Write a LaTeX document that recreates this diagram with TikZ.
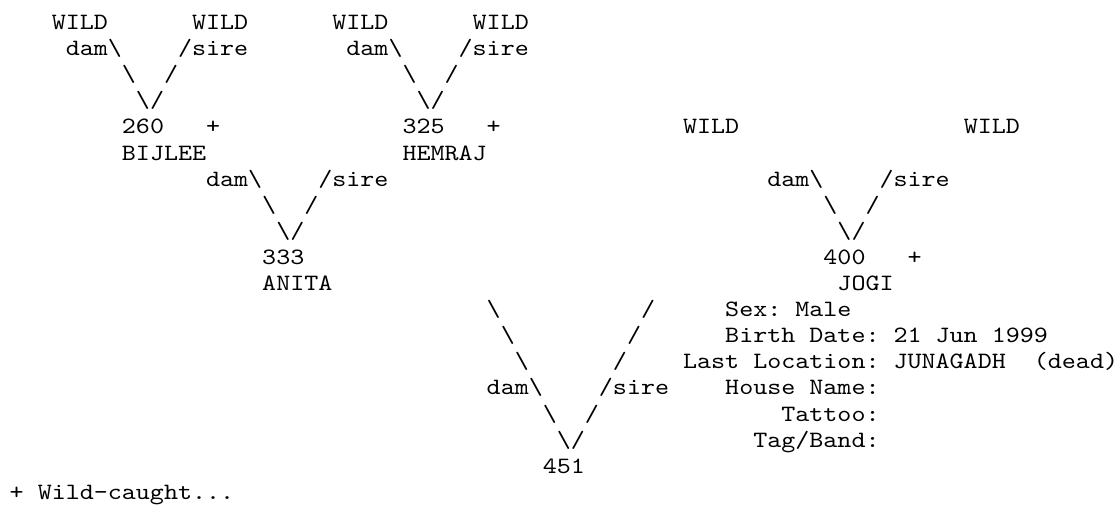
\documentclass[tikz,border=0pt]{standalone}
\usepackage{fontspec}
\newfontfamily\pedfont{lmmono10-regular.otf}[FakeStretch=1.142]
\newcommand{\bs}{\textbackslash}
\tikzset{
  txt/.style={font={\pedfont\fontsize{23.4pt}{26.1pt}\selectfont\frenchspacing},
    inner sep=0pt, outer sep=0pt, anchor=base west, text=black}
}
\begin{document}
\begin{tikzpicture}

  % page frame
  \useasboundingbox (0pt,0pt) rectangle (1119pt,-507pt);
  \fill[white] (0pt,0pt) rectangle (1119pt,-507pt);

  \begin{scope}[x=14.03pt, y=-26.1pt, shift={(9.7pt,-3.4pt)}]

    % grandparents of the dam
    \node[txt] (wa) at (3,1) {WILD};
    \node[txt] (wb) at (13,1) {WILD};
    \node[txt] (wc) at (23,1) {WILD};
    \node[txt] (wd) at (33,1) {WILD};

    \node[txt] (dama) at (4,2) {dam\bs};
    \node[txt] (sirea) at (12,2) {/sire};
    \node[txt] (damb) at (24,2) {dam\bs};
    \node[txt] (sireb) at (32,2) {/sire};

    \node[txt] (la) at (8,3) {\bs};
    \node[txt] (ra) at (11,3) {/};
    \node[txt] (lb) at (28,3) {\bs};
    \node[txt] (rb) at (31,3) {/};

    \node[txt] (va) at (9,4) {\bs/};
    \node[txt] (vb) at (29,4) {\bs/};

    % parents of ANITA, parents of JOGI
    \node[txt] (id260) at (8,5) {260};
    \node[txt] (wc260) at (14,5) {+};
    \node[txt] (id325) at (28,5) {325};
    \node[txt] (wc325) at (34,5) {+};
    \node[txt] (we) at (48,5) {WILD};
    \node[txt] (wf) at (68,5) {WILD};

    \node[txt] (nm260) at (8,6) {BIJLEE};
    \node[txt] (nm325) at (28,6) {HEMRAJ};

    \node[txt] (damc) at (14,7) {dam\bs};
    \node[txt] (sirec) at (22,7) {/sire};
    \node[txt] (damd) at (54,7) {dam\bs};
    \node[txt] (sired) at (62,7) {/sire};

    \node[txt] (lc) at (18,8) {\bs};
    \node[txt] (rc) at (21,8) {/};
    \node[txt] (ld) at (58,8) {\bs};
    \node[txt] (rd) at (61,8) {/};

    \node[txt] (vc) at (19,9) {\bs/};
    \node[txt] (vd) at (59,9) {\bs/};

    % dam and sire
    \node[txt] (id333) at (18,10) {333};
    \node[txt] (id400) at (58,10) {400};
    \node[txt] (wc400) at (64,10) {+};

    \node[txt] (nm333) at (18,11) {ANITA};
    \node[txt] (nm400) at (59,11) {JOGI};

    % long V down to 451
    \node[txt] (le1) at (34,12) {\bs};
    \node[txt] (re1) at (45,12) {/};
    \node[txt] (le2) at (35,13) {\bs};
    \node[txt] (re2) at (44,13) {/};
    \node[txt] (le3) at (36,14) {\bs};
    \node[txt] (re3) at (43,14) {/};
    \node[txt] (dame) at (34,15) {dam\bs};
    \node[txt] (siree) at (42,15) {/sire};
    \node[txt] (le4) at (38,16) {\bs};
    \node[txt] (re4) at (41,16) {/};
    \node[txt] (ve) at (39,17) {\bs/};
    \node[txt] (id451) at (38,18) {451};

    % details of 400
    \node[txt] (sex) at (51,12) {Sex: Male};
    \node[txt] (birth) at (51,13) {Birth Date: 21 Jun 1999};
    \node[txt] (loc) at (48,14) {Last Location: JUNAGADH};
    \node[txt] (dead) at (73,14) {(dead)};
    \node[txt] (house) at (51,15) {House Name:};
    \node[txt] (tattoo) at (55,16) {Tattoo:};
    \node[txt] (tag) at (53,17) {Tag/Band:};

    % legend
    \node[txt] (legend) at (0,19) {+ Wild-caught...};

  \end{scope}

\end{tikzpicture}
\end{document}
